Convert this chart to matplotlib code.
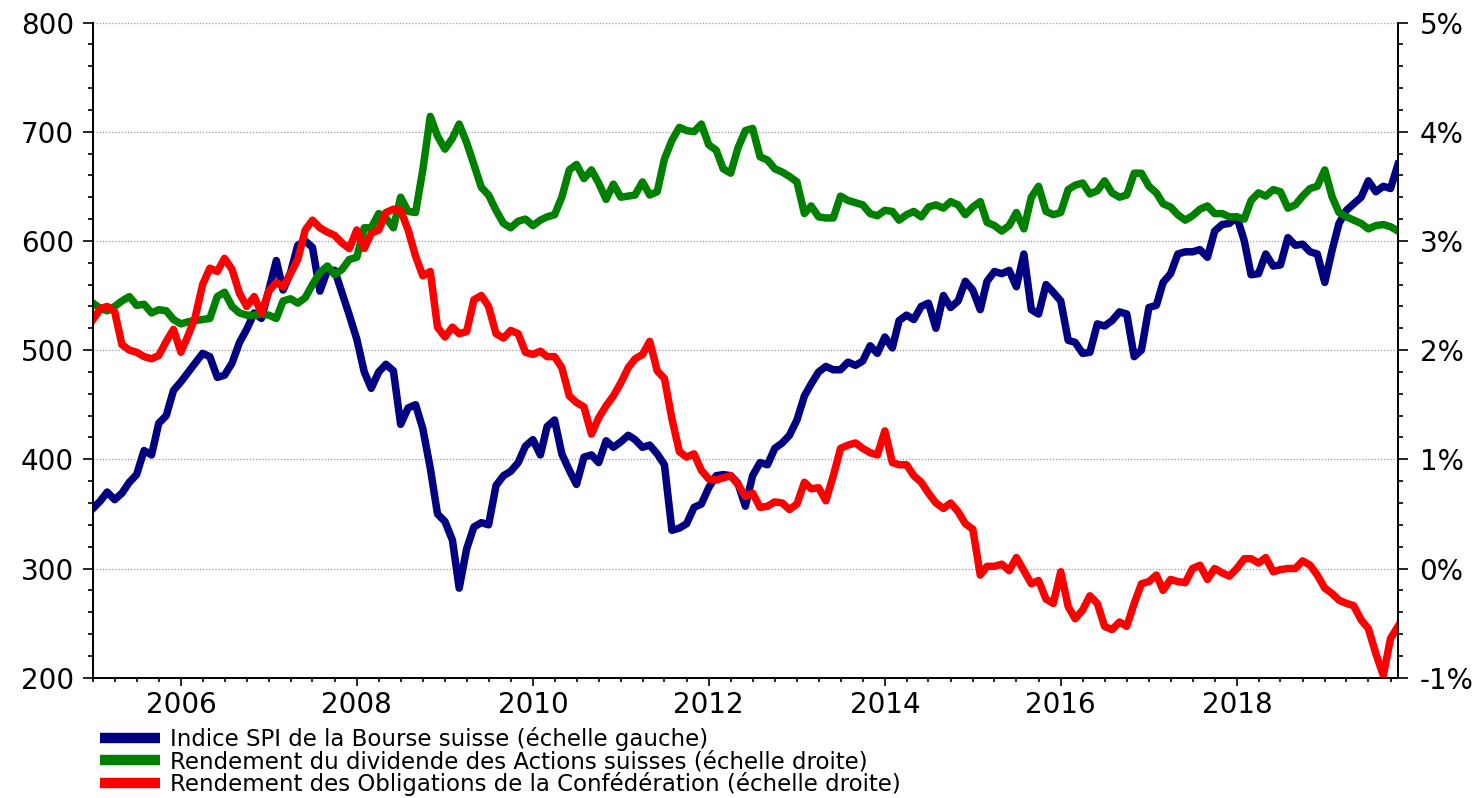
import numpy as np
import pandas as pd
import matplotlib
matplotlib.use("Agg")
import matplotlib.pyplot as plt
import matplotlib.dates as mdates
from matplotlib.ticker import MultipleLocator, FuncFormatter
from matplotlib.lines import Line2D

# ---------------- data (monthly, Jan 2005 - Nov 2019) ----------------
start_month = "2005-01-01"

spi_index = [
    355, 362, 370, 363, 369, 379, 386, 408, 404, 433,
    440, 463, 471, 480, 488, 497, 494, 475, 477, 488,
    507, 519, 534, 529, 555, 582, 555, 571, 596, 600,
    594, 554, 573, 573, 552, 532, 510, 480, 465, 480,
    487, 481, 432, 447, 450, 428, 392, 350, 343, 326,
    282, 318, 338, 342, 340, 376, 385, 389, 397, 412,
    418, 404, 430, 436, 405, 390, 377, 402, 404, 397,
    417, 411, 416, 422, 418, 411, 413, 405, 395, 335,
    337, 341, 356, 359, 374, 385, 386, 385, 378, 357,
    385, 397, 395, 410, 415, 422, 436, 458, 469, 480,
    485, 482, 482, 489, 486, 490, 504, 497, 512, 502,
    527, 532, 528, 540, 543, 520, 550, 539, 545, 563,
    555, 537, 563, 572, 570, 573, 558, 588, 537, 533,
    560, 553, 545, 509, 507, 497, 498, 524, 522, 527,
    535, 533, 494, 500, 539, 541, 562, 570, 588, 590,
    590, 592, 585, 609, 615, 616, 622, 600, 569, 570,
    588, 577, 578, 603, 596, 597, 590, 588, 562, 592,
    616, 628, 634, 640, 655, 645, 650, 648, 670,
]

dividend_yield_pct = [
    2.43, 2.38, 2.36, 2.40, 2.45, 2.49, 2.41, 2.42, 2.34, 2.37,
    2.36, 2.28, 2.24, 2.26, 2.27, 2.28, 2.29, 2.49, 2.53, 2.40,
    2.34, 2.32, 2.32, 2.33, 2.32, 2.29, 2.45, 2.47, 2.43, 2.48,
    2.60, 2.71, 2.77, 2.69, 2.74, 2.83, 2.85, 3.12, 3.12, 3.25,
    3.21, 3.12, 3.40, 3.27, 3.26, 3.65, 4.14, 3.96, 3.84, 3.94,
    4.07, 3.90, 3.70, 3.49, 3.42, 3.28, 3.16, 3.12, 3.18, 3.20,
    3.14, 3.19, 3.22, 3.24, 3.40, 3.65, 3.70, 3.57, 3.65, 3.53,
    3.38, 3.52, 3.40, 3.41, 3.42, 3.54, 3.42, 3.45, 3.75, 3.92,
    4.04, 4.01, 4.00, 4.07, 3.88, 3.83, 3.66, 3.62, 3.85, 4.01,
    4.03, 3.77, 3.74, 3.66, 3.63, 3.59, 3.54, 3.25, 3.32, 3.22,
    3.21, 3.21, 3.41, 3.37, 3.35, 3.33, 3.25, 3.23, 3.28, 3.27,
    3.19, 3.24, 3.27, 3.22, 3.31, 3.33, 3.30, 3.36, 3.33, 3.24,
    3.31, 3.36, 3.17, 3.14, 3.09, 3.14, 3.26, 3.11, 3.40, 3.50,
    3.27, 3.24, 3.26, 3.47, 3.51, 3.53, 3.43, 3.46, 3.55, 3.44,
    3.40, 3.42, 3.62, 3.62, 3.50, 3.44, 3.34, 3.31, 3.24, 3.19,
    3.23, 3.29, 3.32, 3.25, 3.25, 3.22, 3.22, 3.20, 3.37, 3.44,
    3.41, 3.47, 3.45, 3.30, 3.33, 3.41, 3.48, 3.50, 3.65, 3.40,
    3.26, 3.22, 3.19, 3.16, 3.11, 3.14, 3.15, 3.13, 3.09,
]

bond_yield_pct = [
    2.28, 2.38, 2.40, 2.35, 2.05, 2.00, 1.98, 1.94, 1.92, 1.95,
    2.08, 2.19, 1.98, 2.14, 2.30, 2.60, 2.75, 2.72, 2.84, 2.74,
    2.52, 2.40, 2.49, 2.34, 2.54, 2.62, 2.58, 2.70, 2.83, 3.10,
    3.19, 3.12, 3.08, 3.05, 2.98, 2.93, 3.10, 2.93, 3.07, 3.10,
    3.26, 3.29, 3.28, 3.10, 2.86, 2.68, 2.72, 2.21, 2.12, 2.21,
    2.15, 2.17, 2.46, 2.50, 2.40, 2.15, 2.11, 2.18, 2.15, 1.98,
    1.96, 1.99, 1.94, 1.94, 1.84, 1.58, 1.52, 1.48, 1.23, 1.38,
    1.49, 1.58, 1.70, 1.84, 1.92, 1.96, 2.08, 1.81, 1.74, 1.37,
    1.07, 1.02, 1.05, 0.90, 0.82, 0.81, 0.83, 0.85, 0.77, 0.66,
    0.69, 0.56, 0.57, 0.61, 0.60, 0.54, 0.59, 0.79, 0.73, 0.74,
    0.62, 0.85, 1.10, 1.13, 1.15, 1.10, 1.06, 1.04, 1.26, 0.97,
    0.95, 0.95, 0.85, 0.79, 0.69, 0.60, 0.55, 0.60, 0.52, 0.41,
    0.36, -0.06, 0.02, 0.02, 0.04, -0.02, 0.10, -0.02, -0.14, -0.11,
    -0.28, -0.32, -0.03, -0.35, -0.46, -0.38, -0.25, -0.32, -0.53, -0.56,
    -0.49, -0.53, -0.32, -0.14, -0.12, -0.06, -0.20, -0.10, -0.12, -0.13,
    0.00, 0.03, -0.10, 0.00, -0.04, -0.07, 0.00, 0.09, 0.09, 0.05,
    0.10, -0.03, -0.01, 0.00, 0.00, 0.07, 0.03, -0.06, -0.18, -0.23,
    -0.29, -0.32, -0.34, -0.47, -0.55, -0.78, -0.98, -0.64, -0.53,
]

series_labels = [
    "Indice SPI de la Bourse suisse (échelle gauche)",
    "Rendement du dividende des Actions suisses (échelle droite)",
    "Rendement des Obligations de la Confédération (échelle droite)",
]
series_colors = ["#000080", "#008000", "#FF0000"]

# ---------------- figure ----------------
W, H = 1482, 798
plt.rcParams["font.family"] = ["DejaVu Sans"]
fig = plt.figure(figsize=(W / 100, H / 100), dpi=100)
left, right, top, bottom = 93, 1398, 22.5, 677.7
ax = fig.add_axes([left / W, 1 - bottom / H, (right - left) / W, (bottom - top) / H])
ax2 = ax.twinx()

dates = pd.date_range(start_month, periods=len(spi_index), freq="MS")

lw = 5.4
ax.plot(dates, spi_index, color=series_colors[0], lw=lw, solid_joinstyle="round")
ax2.plot(dates, dividend_yield_pct, color=series_colors[1], lw=lw, solid_joinstyle="round")
ax2.plot(dates, bond_yield_pct, color=series_colors[2], lw=lw, solid_joinstyle="round")

ax.set_xlim(dates[0], dates[-1])
ax.set_ylim(200, 800)
ax2.set_ylim(-1, 5)

# ticks
ax.xaxis.set_major_locator(mdates.YearLocator(2))
ax.xaxis.set_minor_locator(mdates.MonthLocator(bymonth=[1, 4, 7, 10]))
ax.xaxis.set_major_formatter(mdates.DateFormatter("%Y"))
ax.yaxis.set_major_locator(MultipleLocator(100))
ax.yaxis.set_minor_locator(MultipleLocator(20))
ax2.yaxis.set_major_locator(MultipleLocator(1))
ax2.yaxis.set_minor_locator(MultipleLocator(0.2))
ax2.yaxis.set_major_formatter(FuncFormatter(lambda v, p: f"{v:.0f}%"))

fs = 20
ax.tick_params(axis="y", which="major", direction="out", length=7.5, width=1.2,
               labelsize=fs, pad=6)
ax.tick_params(axis="y", which="minor", direction="out", length=3.8, width=1.2)
ax.tick_params(axis="x", which="major", direction="out", length=5.5, width=1.2,
               labelsize=fs, pad=4)
ax.tick_params(axis="x", which="minor", direction="out", length=3.0, width=1.2)
ax2.tick_params(axis="y", which="major", direction="out", length=7.5, width=1.2,
                labelsize=fs, pad=8)
ax2.tick_params(axis="y", which="minor", direction="out", length=3.8, width=1.2)

for a in (ax, ax2):
    a.spines["top"].set_visible(False)
    for s in ("left", "right", "bottom"):
        a.spines[s].set_linewidth(1.3)

ax.yaxis.grid(True, which="major", linestyle=(0, (1, 1.5)), color="#9a9a9a", lw=0.9)
ax.set_axisbelow(True)

# legend
handles = [Line2D([], [], color=c, lw=7.5, solid_capstyle="butt") for c in series_colors]
fig.legend(handles, series_labels, loc="upper left",
           bbox_to_anchor=(100 / W, 1 - 727 / H), frameon=False, fontsize=16.5,
           handlelength=2.6, handletextpad=0.45, labelspacing=-0.04,
           borderpad=0, borderaxespad=0)

fig.savefig("out.png", dpi=100)
